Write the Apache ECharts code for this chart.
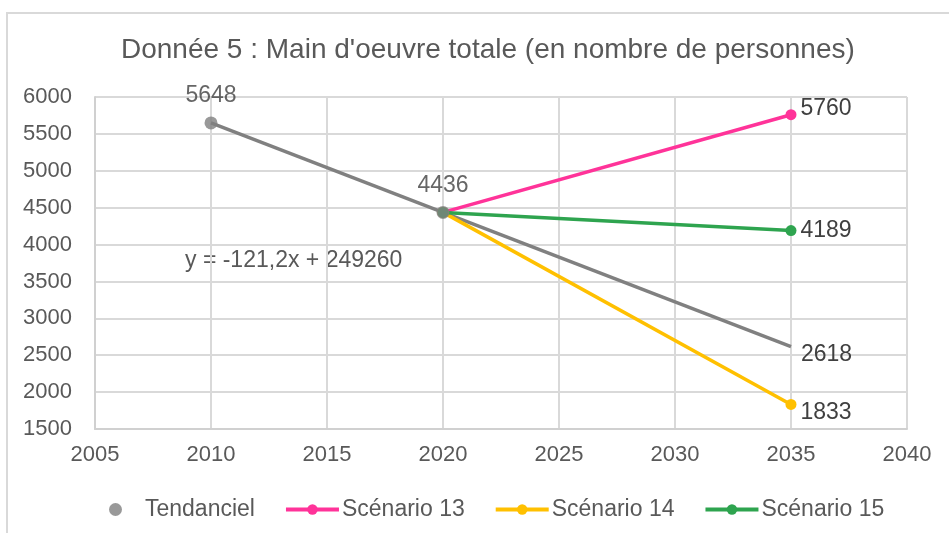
<!DOCTYPE html>
<html>
<head>
<meta charset="utf-8">
<script src="https://cdn.jsdelivr.net/npm/echarts@6/dist/echarts.min.js"></script>
<style>
  html, body { margin: 0; padding: 0; background: #fff; }
  #chart1 { width: 949px; height: 533px; }
</style>
</head>
<body>
<div id="chart1"></div>
<script>
var years = [2010, 2020, 2035]
var tendanciel = [5648, 4436]
var tendance = [5648, 2618] // courbe de tendance 2010 -> 2035
var scenario13 = [4436, 5760]
var scenario14 = [4436, 1833]
var scenario15 = [4436, 4189]
var xTicks = [2005, 2040, 5]
var yTicks = [1500, 6000, 500]
var equation = 'y = -121,2x + 249260'

var font = 'Liberation Sans, Arial, sans-serif'
var chart1

function pairs (xs, ys) {
  return ys.map(function (v, i) { return [xs[i], v] })
}

function plain (v) { return String(v) }

function scenario (name, color, values) {
  return {
    name: name,
    type: 'line',
    data: pairs([years[1], years[2]], values),
    symbol: 'circle',
    symbolSize: 11,
    lineStyle: { width: 3.5, color: color },
    itemStyle: { color: color },
    z: 3,
    label: {
      show: true,
      formatter: function (p) { return p.dataIndex === 1 ? String(p.value[1]) : '' },
      position: 'right',
      distance: 4,
      color: '#404040',
      fontSize: 23,
      fontFamily: font
    }
  }
}

function rendChart1 () {
  if (chart1 != null && chart1 != undefined) {
    chart1.dispose()
  }
  chart1 = echarts.init(document.getElementById('chart1'))
  var s13 = scenario('Scénario 13', '#ff3399', scenario13)
  s13.label.offset = [0, -6]
  var s14 = scenario('Scénario 14', '#ffc000', scenario14)
  s14.label.offset = [0, 8]
  var s15 = scenario('Scénario 15', '#2ea44f', scenario15)
  var option = {
    animation: false,
    backgroundColor: '#fff',
    textStyle: { fontFamily: font },
    title: {
      text: 'Donnée 5 : Main d\'oeuvre totale (en nombre de personnes)',
      left: 116,
      top: 31,
      textStyle: { color: '#595959', fontSize: 28, fontWeight: 'normal', fontFamily: font }
    },
    legend: {
      data: ['Tendanciel', 'Scénario 13', 'Scénario 14', 'Scénario 15'],
      left: 104,
      top: 493,
      itemWidth: 53,
      itemHeight: 13,
      itemGap: 29,
      lineStyle: { width: 4 },
      textStyle: { color: '#595959', fontSize: 23, fontFamily: font, padding: [0, 0, 0, -2] }
    },
    grid: {
      left: 95,
      right: 42,
      top: 97,
      bottom: 104
    },
    graphic: [
      {
        type: 'polyline',
        shape: { points: [[7, 533], [7, 13], [949, 13]] },
        style: { stroke: '#d9d9d9', lineWidth: 2, fill: null }
      },
      {
        type: 'text',
        left: 185,
        top: 249,
        style: { text: equation, fill: '#595959', fontSize: 23, fontFamily: font }
      }
    ],
    xAxis: {
      type: 'value',
      min: xTicks[0],
      max: xTicks[1],
      interval: xTicks[2],
      axisLine: { show: true, lineStyle: { color: '#d0d0d0', width: 2 } },
      axisTick: { show: false },
      axisLabel: { color: '#595959', fontSize: 22, margin: 15, fontFamily: font, formatter: plain },
      splitLine: { show: true, lineStyle: { color: '#d9d9d9', width: 2 } }
    },
    yAxis: {
      type: 'value',
      min: yTicks[0],
      max: yTicks[1],
      interval: yTicks[2],
      axisLine: { show: true, lineStyle: { color: '#d0d0d0', width: 2 } },
      axisTick: { show: false },
      axisLabel: { color: '#595959', fontSize: 22, margin: 23, fontFamily: font, formatter: plain },
      splitLine: { show: true, lineStyle: { color: '#d9d9d9', width: 2 } }
    },
    series: [
      {
        name: 'Tendance',
        type: 'line',
        data: pairs([years[0], years[2]], tendance),
        symbol: 'none',
        lineStyle: { width: 3.5, color: '#808080' },
        itemStyle: { color: '#808080' },
        z: 2,
        endLabel: {
          show: true,
          color: '#404040',
          fontSize: 23,
          fontFamily: font,
          distance: 10,
          offset: [0, 8],
          formatter: function (p) { return String(p.value[1]) }
        }
      },
      s13,
      s14,
      s15,
      {
        name: 'Tendanciel',
        type: 'scatter',
        data: pairs(years, tendanciel),
        symbol: 'circle',
        symbolSize: 13,
        itemStyle: { color: '#808080' },
        z: 5,
        label: {
          show: true,
          position: 'top',
          distance: 9,
          color: '#404040',
          fontSize: 23,
          fontFamily: font,
          formatter: function (p) { return String(p.value[1]) }
        }
      }
    ]
  }
  chart1.setOption(option)
}

rendChart1()
</script>
</body>
</html>
